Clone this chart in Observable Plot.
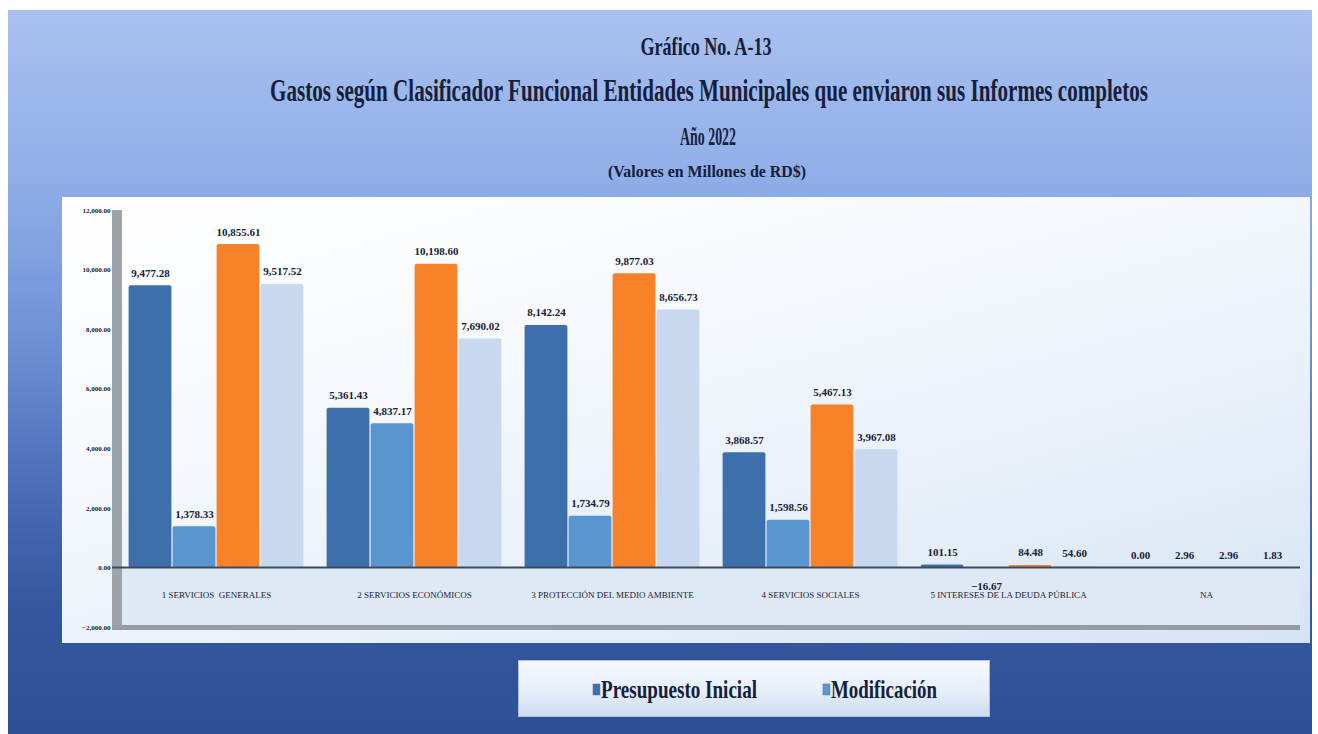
<!DOCTYPE html>
<html><head><meta charset="utf-8">
<script src="https://cdn.jsdelivr.net/npm/d3@7"></script>
<script src="https://cdn.jsdelivr.net/npm/@observablehq/plot@0.6"></script>
<style>
body{margin:0;background:#fff;width:1318px;height:734px;overflow:hidden;font-family:"Liberation Serif",serif;}
#page{position:absolute;left:8px;top:10px;width:1304px;height:724px;background:linear-gradient(to bottom,#a9c1f0 0%,#92afe8 22%,#6f92d6 45%,#4b6fb8 65%,#34579e 82%,#2d5096 100%);}
#titles{position:absolute;left:0;top:0;}
#titles text, #legend text{font-family:"Liberation Serif",serif;}
#panel{position:absolute;left:54px;top:187px;width:1248px;height:446px;background:linear-gradient(165deg,#ffffff 0%,#f6f9fd 35%,#e4edf8 75%,#d6e3f4 100%);}
#legend{position:absolute;left:510px;top:650px;width:472px;height:57px;background:linear-gradient(to bottom,#f6f9fe 0%,#e6eef9 55%,#cddcf1 100%);border:1px solid #aebfdb;box-sizing:border-box;}
</style></head>
<body>
<div id="page">
  <svg id="titles" width="1304" height="185"></svg>
  <div id="panel"></div>
  <div id="legend"></div>
</div>
<script>
// ---- data ----
const titleLines = ["Gráfico No. A-13",
  "Gastos según Clasificador Funcional Entidades Municipales que enviaron sus Informes completos",
  "Año 2022",
  "(Valores en Millones de RD$)"];
const categories = ["1 SERVICIOS  GENERALES", "2 SERVICIOS ECONÓMICOS", "3 PROTECCIÓN DEL MEDIO AMBIENTE",
  "4 SERVICIOS SOCIALES", "5 INTERESES DE LA DEUDA PÚBLICA", "NA"];
const series = ["Presupuesto Inicial", "Modificación", "Presupuesto Vigente", "Ejecutado"];
const presupuestoInicial = [9477.28, 5361.43, 8142.24, 3868.57, 101.15, 0.00];
const modificacion       = [1378.33, 4837.17, 1734.79, 1598.56, -16.67, 2.96];
const presupuestoVigente = [10855.61, 10198.60, 9877.03, 5467.13, 84.48, 2.96];
const ejecutado          = [9517.52, 7690.02, 8656.73, 3967.08, 54.60, 1.83];
const yTicks = [-2000, 0, 2000, 4000, 6000, 8000, 10000, 12000];
const legendItems = ["Presupuesto Inicial", "Modificación"];

// ---- styles ----
const colors = ["#3d70aa", "#5995cf", "#f7822a", "#c8d8ee"];
const ink = "#16203a";
const fmt = d3.format(",.2f");

// ---- titles ----
const tsvg = d3.select("#titles");
const tspec = [
  {x: 698, y: 45, size: 22, sy: 1.18, len: 131},
  {x: 701, y: 91, size: 25, sy: 1.28, len: 878},
  {x: 700, y: 135, size: 21, sy: 1.2, len: 56},
  {x: 699, y: 167, size: 15, sy: 1.15, len: 198}
];
titleLines.forEach((t, i) => {
  const s = tspec[i];
  tsvg.append("text").attr("transform", `translate(${s.x},${s.y}) scale(1,${s.sy})`)
    .attr("text-anchor", "middle").attr("font-weight", "bold")
    .attr("font-size", s.size).attr("fill", ink)
    .attr("textLength", s.len / 1).attr("lengthAdjust", "spacingAndGlyphs").text(t);
});

// ---- chart ----
const valuesBySeries = [presupuestoInicial, modificacion, presupuestoVigente, ejecutado];
const data = categories.flatMap((c, i) => series.map((s, j) => ({category: c, serie: s, value: valuesBySeries[j][i]})));

const chart = Plot.plot({
  width: 1248, height: 446,
  marginLeft: 60, marginRight: 10, marginTop: 13, marginBottom: 16,
  style: {background: "transparent", fontFamily: "Liberation Serif", color: ink},
  fx: {domain: categories, paddingInner: 0.1, paddingOuter: 0.02, label: null},
  x: {domain: series, padding: 0, axis: null},
  y: {domain: [-2000, 12000], label: null},
  color: {domain: series, range: colors},
  marks: [
    Plot.axisY({ticks: yTicks, tickFormat: fmt, tickSize: 0, tickPadding: 17, fontSize: 7, fontWeight: "bold", fill: ink}),
    Plot.axisFx({anchor: "bottom", tickSize: 0, dy: -45, fontSize: 9, fill: ink, label: null}),
    Plot.barY(data, {fx: "category", x: "serie", y: "value", fill: "serie", rx: 2, insetLeft: 0.6, insetRight: 0.6}),
    Plot.text(data.filter(d => d.value >= 0), {fx: "category", x: "serie", y: "value", text: d => fmt(d.value),
      lineAnchor: "bottom", dy: -9, fontSize: 11, fontWeight: "bold", fill: ink}),
    Plot.text(data.filter(d => d.value < 0), {fx: "category", x: "serie", y: "value", text: d => fmt(d.value),
      lineAnchor: "top", dy: 14, fontSize: 11, fontWeight: "bold", fill: ink})
  ]
});
document.getElementById("panel").appendChild(chart);

// 3D-like wall, floor and base line, positioned through the plot's y scale
const ys = chart.scale("y");
const yf = ys.apply ? (v => ys.apply(v)) : d3.scaleLinear().domain(ys.domain).range(ys.range);
const svgSel = d3.select(chart);
const deco = svgSel.insert("g", "g");
const wx0 = 50, wx1 = 1248 - 10;
deco.append("rect").attr("x", wx0).attr("y", yf(0)).attr("width", wx1 - wx0).attr("height", yf(-2000) - yf(0)).attr("fill", "#dfe9f6");
deco.append("rect").attr("x", wx0).attr("y", yf(12000)).attr("width", 10).attr("height", yf(-2000) - yf(12000)).attr("fill", "#9da3ab");
deco.append("rect").attr("x", wx0).attr("y", yf(-2000) - 2).attr("width", wx1 - wx0).attr("height", 5).attr("fill", "#949ca6");
const baseG = svgSel.append("g");
baseG.append("line").attr("x1", wx0).attr("x2", wx1).attr("y1", yf(0)).attr("y2", yf(0)).attr("stroke", "#3b4b5f").attr("stroke-width", 2);

// ---- legend ----
const lsvg = d3.select("#legend").append("svg").attr("width", 470).attr("height", 55);
const lspec = [{sx: 74, tx: 82, len: 156}, {sx: 304, tx: 312, len: 106}];
legendItems.forEach((name, i) => {
  const s = lspec[i];
  lsvg.append("rect").attr("x", s.sx).attr("y", 23).attr("width", 7).attr("height", 11)
    .attr("fill", colors[series.indexOf(name)]).attr("stroke", "#6b7f99").attr("stroke-width", 0.6);
  lsvg.append("text").attr("x", s.tx).attr("y", 37).attr("font-weight", "bold")
    .attr("font-size", 25).attr("fill", ink).attr("textLength", s.len).attr("lengthAdjust", "spacingAndGlyphs").text(name);
});
</script>
</body></html>
